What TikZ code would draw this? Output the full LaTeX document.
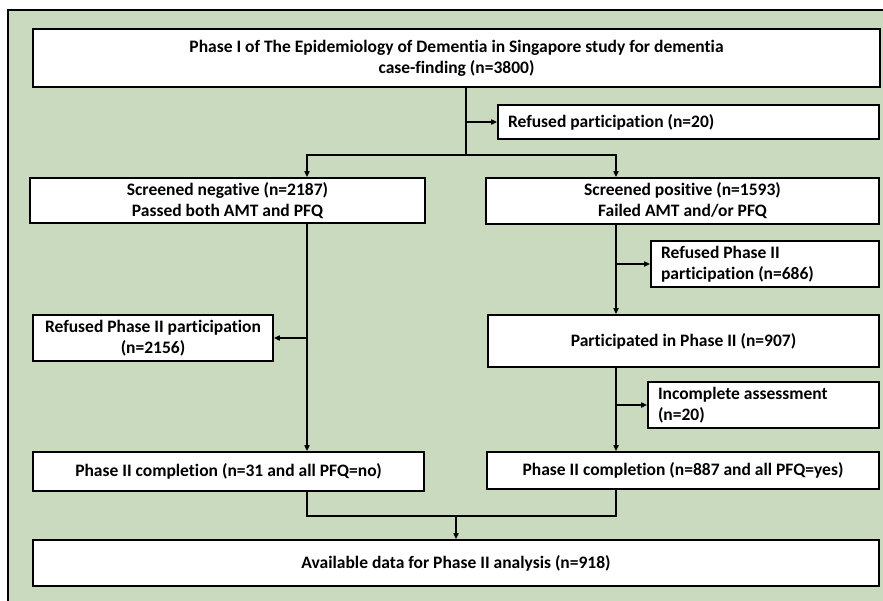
\documentclass[tikz,border=0pt]{standalone}
\usepackage{fontspec}
\setmainfont{Carlito}[Ligatures=NoCommon]
\usetikzlibrary{arrows.meta,positioning}
\definecolor{PanelGreen}{HTML}{C9DABF}

\begin{document}
\begin{tikzpicture}[x=1pt,y=-1pt,
    fbox/.style={draw,line width=1.6pt,fill=white,font=\fontsize{17.5}{21}\selectfont\bfseries,align=center,inner sep=0pt},
    lbox/.style={fbox,align=flush left,inner xsep=10pt},
    link/.style={line width=1.6pt},
    arr/.style={link,-{Triangle[length=6pt,width=5pt]}},
  ]
  \useasboundingbox (0,0) rectangle (883,600);
  \draw[fill=PanelGreen,line width=1.6pt] (8,10) rectangle (895,615);

  % boxes
  \node[fbox,minimum width=847pt,minimum height=58pt] (phaseI) at (456.5,58)
    {Phase I of The Epidemiology of Dementia in Singapore study for dementia\\case-finding (n=3800)};
  \node[lbox,text width=361pt,minimum height=34pt] (refused) at (688.5,122) {Refused participation (n=20)};
  \node[fbox,minimum width=395pt,minimum height=45pt] (neg) at (227.5,200.5) {Screened negative (n=2187)\\Passed both AMT and PFQ};
  \node[fbox,minimum width=393pt,minimum height=46pt] (pos) at (682.5,201) {Screened positive (n=1593)\\Failed AMT and/or PFQ};
  \node[fbox,minimum width=240pt,minimum height=46pt] (refNeg) at (153,338) {Refused Phase II participation\\(n=2156)};
  \node[lbox,text width=208pt,minimum height=46pt] (refPos) at (765,264) {Refused Phase II\\participation (n=686)};
  \node[fbox,minimum width=391pt,minimum height=52pt] (part) at (683.5,341) {Participated in Phase II (n=907)};
  \node[lbox,text width=211pt,minimum height=46pt] (incomp) at (763.5,405) {Incomplete assessment\\(n=20)};
  \node[fbox,minimum width=391pt,minimum height=39pt] (doneNeg) at (228.5,471.5) {Phase II completion (n=31 and all PFQ=no)};
  \node[fbox,minimum width=392pt,minimum height=37pt] (donePos) at (683,470.5) {Phase II completion (n=887 and all PFQ=yes)};
  \node[fbox,minimum width=846pt,minimum height=46pt] (avail) at (456,563) {Available data for Phase II analysis (n=918)};

  % lanes
  \coordinate (laneL) at (307,0);
  \coordinate (laneR) at (616,0);
  \coordinate (fork) at (466,155);
  \coordinate (merge) at (456,516);

  \draw[link] (phaseI.south -| fork) -- (fork);
  \draw[arr] (fork |- refused) -- (refused.west);
  \draw[arr] (fork) -| (neg.north -| laneL);
  \draw[arr] (fork) -| (pos.north -| laneR);

  \draw[arr] (neg.south -| laneL) -- (doneNeg.north -| laneL);
  \draw[arr] (refNeg.east -| laneL) -- (refNeg.east);

  \draw[arr] (pos.south -| laneR) -- (part.north -| laneR);
  \draw[arr] (refPos.west -| laneR) -- (refPos.west);
  \draw[arr] (part.south -| laneR) -- (donePos.north -| laneR);
  \draw[arr] (incomp.west -| laneR) -- (incomp.west);

  \draw[link] (doneNeg.south -| laneL) |- (merge) -| (donePos.south -| laneR);
  \draw[arr] (merge) -- (avail.north);
\end{tikzpicture}
\end{document}
